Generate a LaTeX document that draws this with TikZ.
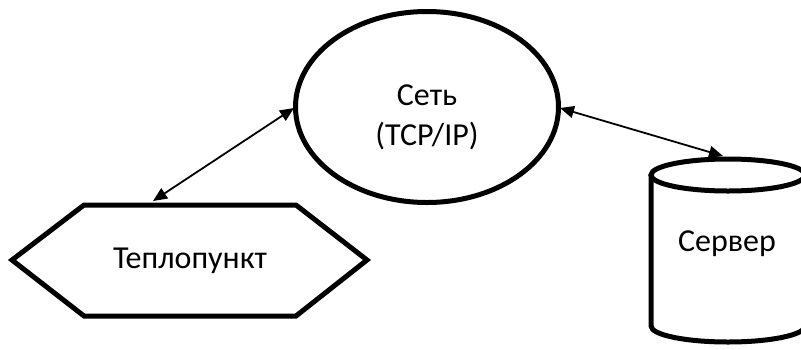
\documentclass[tikz,border=0pt]{standalone}
\usepackage{fontspec}
\setmainfont{Carlito}
\usetikzlibrary{shapes.geometric,arrows.meta}
\begin{document}
\begin{tikzpicture}[x=1pt,y=-1pt,
  thick border/.style={line width=5pt,draw=black},
  label text/.style={font=\fontsize{32}{40}\selectfont,align=center},
  link/.style={line width=1.8pt,{Triangle[length=14pt,width=12pt]}-{Triangle[length=14pt,width=12pt]}}]
\useasboundingbox (0,0) rectangle (801,349);
% network ellipse
\node[ellipse,thick border,minimum width=263pt,minimum height=191pt,inner sep=0pt] (net) at (427,107) {};
\node[label text] (netlabel) at (427,117) {Сеть\\(TCP/IP)};
% hexagon
\draw[thick border,line join=miter] (12,260) -- (84,205) -- (296,205) -- (367,260) -- (296,316) -- (84,316) -- cycle;
\node[label text] (heat) at (190,261) {Теплопункт};
\coordinate (heattop) at (153,201);
% cylinder
\draw[thick border] (651,175) -- (651,326) arc[start angle=180,end angle=0,x radius=77,y radius=16] -- (805,175);
\draw[thick border] (728,175) ellipse[x radius=77,y radius=16];
\node[label text] (srv) at (727,244) {Сервер};
\coordinate (srvtop) at (723,156);
\coordinate (netL) at (294,108);
\coordinate (netR) at (560,108);
% connectors
\draw[link] (heattop) -- (netL);
\draw[link] (netR) -- (srvtop);
\end{tikzpicture}
\end{document}
